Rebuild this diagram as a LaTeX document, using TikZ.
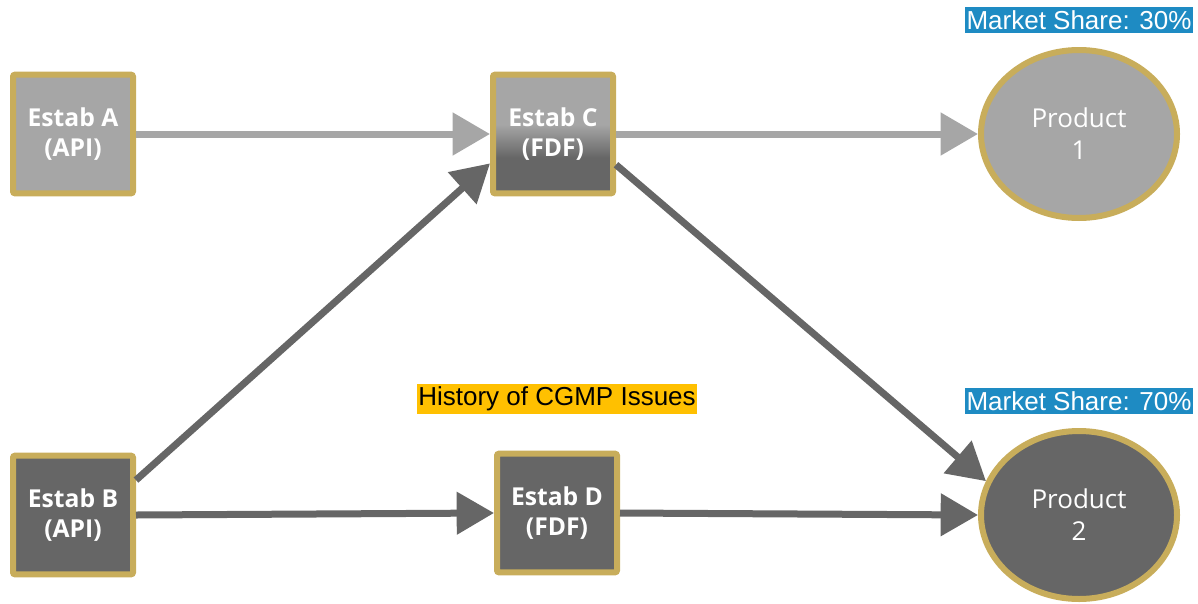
\documentclass[tikz,border=0pt]{standalone}
\usepackage{fontspec}
\setmainfont{Open Sans}
\newfontfamily\arialfont{Liberation Sans}
\usetikzlibrary{arrows.meta,shapes.geometric,positioning}

\definecolor{estabgold}{RGB}{200,173,91}
\definecolor{lightgrey}{RGB}{166,166,166}
\definecolor{darkgrey}{RGB}{102,102,102}
\definecolor{shareblue}{RGB}{30,139,195}
\definecolor{issueyellow}{RGB}{255,192,0}

\pgfdeclareverticalshading{estabfade}{100bp}{color(0bp)=(darkgrey); color(40bp)=(darkgrey); color(54bp)=(lightgrey); color(100bp)=(lightgrey)}

\tikzset{
	estab/.style={rectangle, rounded corners=1.5pt, draw=estabgold, line width=4.5pt, minimum width=90pt, minimum height=89pt, inner sep=0pt, align=center, text=white, font=\fontsize{18.5}{22.5}\selectfont\bfseries},
	product/.style={ellipse, draw=estabgold, line width=4.5pt, minimum width=147pt, minimum height=126pt, inner sep=0pt, align=center, text=white, font=\fontsize{19.5}{24}\selectfont},
	share/.style={fill=shareblue, text=white, font=\arialfont\fontsize{19.5}{22}\selectfont, inner xsep=1pt, inner ysep=2.5pt},
	flow/.style={line width=5.25pt, -{Triangle[length=28pt,width=31pt]}},
}

\begin{document}
\begin{tikzpicture}[x=0.75pt,y=0.75pt,yscale=-1,xscale=1]
		\useasboundingbox (0,0) rectangle (1198,603);
		
		%Shape: Rectangle [id:estA]
		\node [estab, fill=lightgrey] (estA) at (73,134) {Estab A\\(API)};
		%Shape: Rectangle [id:estB]
		\node [estab, fill=darkgrey] (estB) at (73,515) {Estab B\\(API)};
		%Shape: Rectangle [id:estC]
		\node [estab, shading=estabfade] (estC) at (553,134) {Estab C\\(FDF)};
		%Shape: Rectangle [id:estD]
		\node [estab, fill=darkgrey] (estD) at (557,513) {Estab D\\(FDF)};
		%Shape: Ellipse [id:prod1]
		\node [product, fill=lightgrey] (prod1) at (1079,134) {Product\\1};
		%Shape: Ellipse [id:prod2]
		\node [product, fill=darkgrey] (prod2) at (1079,515) {Product\\2};
		
		%Straight Lines
		\draw [flow, lightgrey] (estA.east) -- (estC.west);
		\draw [flow, lightgrey] (estC.east) -- (prod1.west);
		\draw [flow, darkgrey] (estB.29) -- (estC.205);
		\draw [flow, darkgrey] (estB.east) -- (estD.west);
		\draw [flow, darkgrey] (estC.334) -- (prod2.160);
		\draw [flow, darkgrey] (estD.east) -- (prod2.west);
		
		% Text Node
		\node [share, above=10.5pt of prod1] (share1) {Market Share: 30\%};
		% Text Node
		\node [share, above=10.5pt of prod2] (share2) {Market Share: 70\%};
		% Text Node
		\node [fill=issueyellow, font=\arialfont\fontsize{19.5}{22}\selectfont, inner xsep=1pt, inner ysep=2.5pt, above=27pt of estD] (issues) {History of CGMP Issues};
		
\end{tikzpicture}
\end{document}
